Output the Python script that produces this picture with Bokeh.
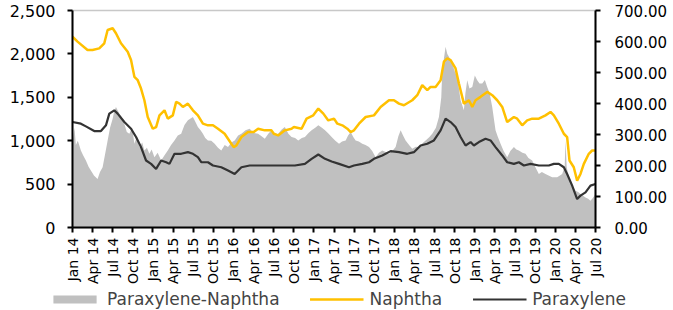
from bokeh.plotting import figure
from bokeh.models import (Range1d, LinearAxis, FixedTicker, NumeralTickFormatter,
                          Legend, LegendItem, ColumnDataSource)
from bokeh.embed import file_html
from bokeh.resources import INLINE
import math

# x positions are months since Jan 2014
tick_labels = ["Jan 14", "Apr 14", "Jul 14", "Oct 14", "Jan 15", "Apr 15", "Jul 15", "Oct 15",
               "Jan 16", "Apr 16", "Jul 16", "Oct 16", "Jan 17", "Apr 17", "Jul 17", "Oct 17",
               "Jan 18", "Apr 18", "Jul 18", "Oct 18", "Jan 19", "Apr 19", "Jul 19", "Oct 19",
               "Jan 20", "Apr 20", "Jul 20"]

naphtha_m = [0, 0.75, 2.24, 2.99, 3.99, 4.74, 5.24, 5.99, 6.48, 7.23, 8.23, 8.73, 9.23, 9.73,
             10.22, 10.72, 11.22, 11.97, 12.47, 12.97, 13.72, 14.21, 14.96, 15.46, 15.96, 16.46,
             17.21, 17.96, 18.70, 19.45, 20.20, 20.95, 21.70, 22.69, 23.69, 24.04, 24.44, 25.19,
             26.18, 27.03, 27.68, 28.68, 29.68, 30.02, 30.67, 31.67, 32.67, 33.02, 34.16, 34.91,
             35.91, 36.66, 37.41, 38.15, 39.0, 39.5, 40.24, 40.99, 41.48, 41.98, 42.73, 43.72,
             44.96, 45.95, 47.2, 47.94, 48.69, 49.43, 50.67, 51.42, 52.16, 52.91, 53.41, 54.15,
             54.90, 55.39, 55.89, 56.39, 57.13, 57.63, 58.37, 59.12, 59.62, 60.11, 60.86, 61.85,
             62.60, 63.34, 64.09, 64.83, 65.83, 66.32, 67.07, 67.81, 68.56, 69.55, 70.54, 71.29,
             71.79, 72.53, 73.28, 73.77, 74.12, 74.76, 75.26, 75.76, 76.26, 77.0, 77.5, 78.0]
naphtha = [2199, 2141, 2045, 2045, 2064, 2122, 2276, 2295, 2238, 2122, 2025, 1929, 1736, 1697,
           1601, 1466, 1273, 1138, 1157, 1292, 1350, 1254, 1292, 1447, 1427, 1389,
           1427, 1350, 1292, 1196, 1177, 1177, 1138, 1080, 965, 926, 945, 1042,
           1100, 1100, 1138, 1119, 1119, 1080, 1061, 1119, 1138, 1157, 1138, 1254,
           1292, 1370, 1312, 1234, 1254, 1196, 1177, 1138, 1100, 1119, 1196, 1273,
           1292, 1389, 1466, 1466, 1427, 1408, 1466, 1524, 1640, 1582, 1620, 1620,
           1697, 1910, 1948, 1929, 1832, 1659, 1427, 1466, 1389, 1466, 1505, 1562,
           1524, 1466, 1389, 1215, 1273, 1254, 1177, 1234, 1254, 1254, 1292, 1331,
           1292, 1196, 1080, 1042, 772, 694, 540, 617, 733, 849, 887, 887]

px_m = [0, 1.25, 2.0, 3.24, 4.24, 4.99, 5.49, 6.23, 6.73, 7.73, 8.73, 9.48, 10.22, 10.97,
        11.72, 12.47, 13.22, 13.97, 14.46, 15.21, 16.21, 17.21, 17.96, 18.70, 19.20, 20.20,
        20.95, 22.19, 23.19, 24.19, 25.19, 26.43, 27.68, 29.18, 30.67, 31.67, 33.17, 34.66,
        35.66, 36.66, 37.66, 38.65, 39.75, 41.24, 41.98, 43.22, 44.22, 44.96, 46.2, 47.45,
        48.69, 49.93, 50.92, 51.92, 52.91, 53.90, 54.90, 55.64, 56.39, 57.13, 57.88, 58.62,
        59.37, 59.86, 60.61, 61.60, 62.35, 63.09, 64.09, 64.83, 65.83, 66.57, 67.32, 68.31,
        69.55, 71.04, 71.79, 72.53, 73.28, 73.77, 74.52, 75.26, 75.76, 76.51, 77.25, 78.0]
paraxylene = [1215, 1196, 1165, 1111, 1111, 1177, 1312, 1350, 1312, 1215, 1138, 1042, 926, 772,
              733, 675, 772, 752, 733, 849, 849, 868, 849, 810, 752, 752,
              714, 694, 656, 617, 694, 714, 714, 714, 714, 714, 714, 733,
              791, 841, 791, 760, 733, 694, 714, 733, 752, 791, 830, 880,
              868, 849, 868, 945, 965, 1003, 1119, 1254, 1215, 1157, 1042, 945,
              984, 945, 984, 1022, 1003, 926, 830, 752, 733, 752, 714, 733,
              714, 714, 733, 733, 694, 617, 482, 328, 367, 405, 482, 501]

spread_m = [0, 0.3, 0.5, 0.8, 1.25, 1.6, 2.0, 2.4, 2.74, 3.2, 3.74, 4.1, 4.49, 4.9, 5.24, 5.6,
            5.99, 6.2, 6.48, 6.98, 7.3, 7.73, 8.1, 8.48, 8.9, 9.23, 9.6, 9.98, 10.4, 10.72,
            11.1, 11.47, 11.8, 12.22, 12.7, 13.22, 13.7, 14.21, 14.7, 15.21, 15.7, 16.21, 16.7,
            17.21, 17.96, 18.3, 18.70, 19.1, 19.45, 19.8, 20.20, 20.7, 21.2, 21.7, 22.19, 22.7,
            23.19, 23.7, 24.19, 24.7, 25.19, 25.8, 26.43, 27.0, 27.68, 28.2, 28.68, 29.2, 29.68,
            30.2, 30.67, 31.2, 31.67, 32.2, 32.67, 33.2, 33.67, 34.2, 34.66, 35.2, 35.66, 36.2,
            36.66, 37.2, 37.66, 38.2, 38.65, 39.2, 39.75, 40.2, 40.74, 41.1, 41.48, 41.9, 42.23,
            42.7, 43.22, 43.7, 44.22, 44.7, 45.21, 45.7, 46.2, 46.7, 47.2, 47.7, 48.19, 48.6,
            48.94, 49.3, 49.68, 50.2, 50.67, 51.2, 51.67, 52.2, 52.66, 53.2, 53.65, 54.2, 54.65,
            55.0, 55.15, 55.4, 55.64, 55.9, 56.14, 56.64, 57.0, 57.38, 57.88, 58.37, 58.6, 58.87,
            59.2, 59.62, 60.0, 60.36, 60.7, 61.11, 61.5, 61.85, 62.2, 62.60, 63.09, 63.4, 63.84,
            64.3, 64.83, 65.3, 65.83, 66.2, 66.57, 67.1, 67.56, 68.0, 68.56, 69.0, 69.55, 70.0,
            70.54, 71.0, 71.54, 72.28, 72.7, 73.03, 73.4, 73.53, 73.7, 73.9, 74.4, 75.01, 75.4,
            75.76, 76.1, 76.51, 76.9, 77.25, 77.6, 78.0]
spread = [980, 1150, 950, 1000, 887, 830, 772, 700, 656, 600, 560, 640, 694, 860, 1003, 1150,
          1254, 1330, 1389, 1312, 1280, 1196, 1100, 1080, 1150, 965, 1050, 926, 980, 887,
          920, 849, 900, 810, 860, 772, 830, 887, 950, 1003, 1060, 1080, 1180,
          1235, 1273, 1220, 1157, 1120, 1080, 1030, 1003, 1000, 965, 920, 887, 950,
          926, 980, 1003, 1060, 1080, 1120, 1138, 1090, 1080, 1050, 1022, 1080, 1119,
          1060, 1080, 1130, 1157, 1080, 1042, 1030, 1003, 1030, 1042, 1090, 1119, 1150,
          1177, 1150, 1119, 1080, 1042, 1000, 965, 990, 1003, 1060, 1100, 1040, 1003,
          990, 965, 950, 926, 880, 810, 860, 887, 870, 849, 880, 926, 1050,
          1119, 1060, 1003, 950, 907, 930, 926, 970, 1003, 1040, 1080, 1150, 1273,
          1500, 1813, 1950, 2083, 2000, 1968, 1890, 1800, 1736, 1466, 1350, 1550, 1697,
          1600, 1620, 1750, 1697, 1660, 1659, 1700, 1620, 1550, 1389, 1119, 1050, 965,
          880, 810, 880, 926, 900, 887, 860, 849, 800, 772, 700, 617, 640,
          617, 600, 579, 579, 600, 617, 700, 1000, 700, 617, 500, 424, 410,
          386, 370, 347, 330, 309, 340, 386]

FONT = "DejaVu Sans"
GRAY, GOLD, DARK = "#C0C0C0", "#FFC000", "#333333"

p = figure(frame_width=523, frame_height=217, output_backend="svg", toolbar_location=None,
           x_range=Range1d(0, 78), y_range=Range1d(0, 2500),
           min_border_left=72, min_border_top=10, min_border_bottom=0, min_border_right=0)
p.extra_y_ranges = {"right": Range1d(0, 700)}

sp = ColumnDataSource(dict(x=spread_m, y=spread))
p.varea(x="x", y1=0, y2="y", source=sp, fill_color=GRAY)
p.line(naphtha_m, naphtha, line_color=GOLD, line_width=2.5)
p.line(px_m, paraxylene, line_color=DARK, line_width=2.2)

p.xgrid.visible = False
p.ygrid.visible = False
p.outline_line_color = "#C8C8C8"
p.outline_line_width = 1.5
p.background_fill_color = "white"
p.border_fill_color = "white"

# x axis
xa = p.xaxis[0]
xticks = [3 * i for i in range(len(tick_labels))]
xa.ticker = FixedTicker(ticks=xticks)
xa.major_label_overrides = {t: lab for t, lab in zip(xticks, tick_labels)}
xa.major_label_orientation = math.pi / 2
xa.major_label_text_font = FONT
xa.major_label_text_font_size = "14px"
xa.major_label_text_color = "black"
xa.major_label_standoff = 5
xa.axis_line_width = 2
xa.axis_line_color = "black"
xa.major_tick_line_width = 2
xa.major_tick_in = 0
xa.major_tick_out = 5
xa.minor_tick_line_color = None

# left axis
ya = p.yaxis[0]
ya.ticker = FixedTicker(ticks=[0, 500, 1000, 1500, 2000, 2500])
ya.formatter = NumeralTickFormatter(format="0,0")
ya.major_label_text_font = FONT
ya.major_label_text_font_size = "16px"
ya.major_label_text_color = "black"
ya.major_label_standoff = 12
ya.axis_line_width = 2
ya.axis_line_color = "black"
ya.major_tick_line_width = 2
ya.major_tick_in = 0
ya.major_tick_out = 5
ya.minor_tick_line_color = None

# right axis
ra = LinearAxis(y_range_name="right")
ra.ticker = FixedTicker(ticks=[0, 100, 200, 300, 400, 500, 600, 700])
ra.formatter = NumeralTickFormatter(format="0.00")
ra.major_label_text_font = FONT
ra.major_label_text_font_size = "15px"
ra.major_label_text_color = "black"
ra.major_label_standoff = 14
ra.axis_line_width = 2
ra.axis_line_color = "black"
ra.major_tick_line_width = 2
ra.major_tick_in = 0
ra.major_tick_out = 5
ra.minor_tick_line_color = None
p.add_layout(ra, "right")

# legend strip (same series, drawn out of view, only their legend swatches show)
lf = figure(width=673, height=26, output_backend="svg", toolbar_location=None,
            x_range=Range1d(0, 78), y_range=Range1d(5000, 6000),
            x_axis_type=None, y_axis_type=None,
            min_border_left=0, min_border_right=0, min_border_top=0, min_border_bottom=0)
lf.outline_line_color = None
lf.xgrid.visible = False
lf.ygrid.visible = False
l_spread = lf.varea(x="x", y1=0, y2="y", source=sp, fill_color=GRAY)
l_naph = lf.line(naphtha_m, naphtha, line_color=GOLD, line_width=2.5)
l_px = lf.line(px_m, paraxylene, line_color=DARK, line_width=2.2)

legend = Legend(items=[LegendItem(label="Paraxylene-Naphtha", renderers=[l_spread]),
                       LegendItem(label="Naphtha", renderers=[l_naph]),
                       LegendItem(label="Paraxylene", renderers=[l_px])],
                orientation="horizontal", location="center",
                label_text_font=FONT, label_text_font_size="17px",
                glyph_width=54, glyph_height=10, label_standoff=6, spacing=30,
                padding=0, margin=0, border_line_color=None, background_fill_alpha=0,
                label_height=16)
lf.add_layout(legend, "center")

open("out.html", "w").write(file_html([p, lf], INLINE))
